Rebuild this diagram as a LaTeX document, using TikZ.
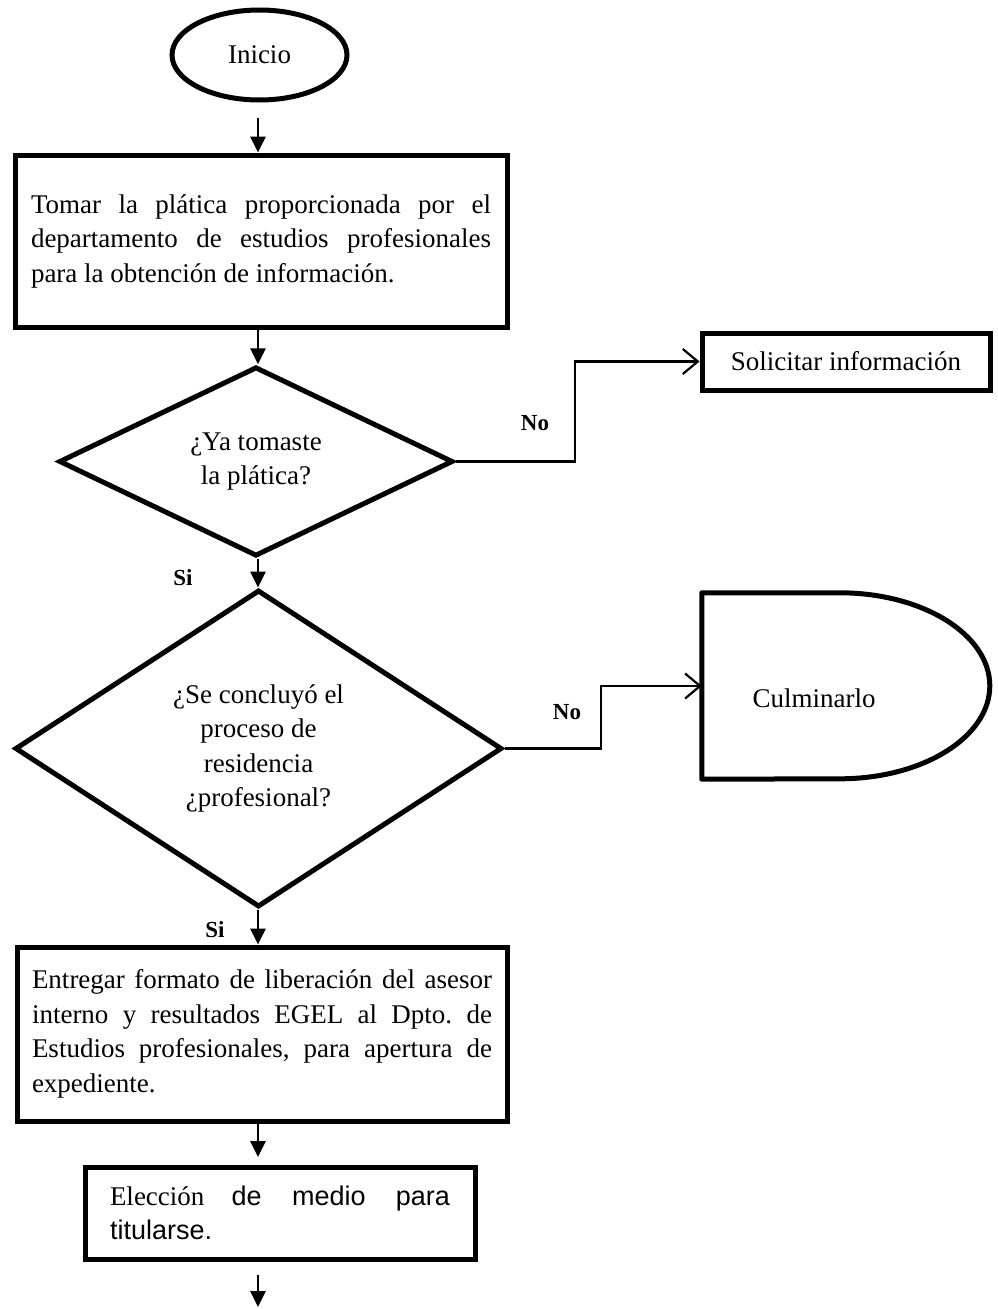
\documentclass[tikz,border=0pt]{standalone}
\usepackage{fontspec}
\setmainfont{Liberation Serif}
\newfontfamily\arialfam{Liberation Sans}
\usetikzlibrary{shapes.geometric,arrows.meta,calc}
\hyphenpenalty=10000
\exhyphenpenalty=10000
\tolerance=10000
\frenchspacing
\begin{document}
\begin{tikzpicture}[x=1pt,y=-1pt,
  thickbox/.style={draw, line width=5pt, rectangle, inner sep=0pt, align=justify, font=\fontsize{27}{34.5}\selectfont},
  term/.style={draw, ellipse, line width=5pt, minimum width=175pt, minimum height=90pt, inner sep=0pt, font=\fontsize{27}{31}\selectfont},
  decision/.style={draw, diamond, line width=5pt, inner sep=0pt, align=center, font=\fontsize{27}{34.5}\selectfont},
  flow/.style={line width=2.8pt, -{Triangle[length=16pt,width=15pt]}},
  branch/.style={line width=2.2pt, -{Straight Barb[length=15pt,width=25pt,line width=2.2pt]}},
  lbl/.style={font=\bfseries\fontsize{23}{27}\selectfont, inner sep=0pt},
]
\useasboundingbox (0,0) rectangle (997,1309);
\coordinate (col) at (258,0);

\node[term] (start) at (259.5,55) {Inicio};

\node[thickbox, minimum width=492pt, minimum height=172pt, text width=460pt] (b1) at (261,241)
  {Tomar la plática proporcionada por el\linebreak departamento de estudios profesionales\linebreak para la obtención de información.};

\node[decision, minimum width=394pt, minimum height=187pt] (d1) at (256,461.5) {¿Ya tomaste\\la plática?};

\node[thickbox, minimum width=288pt, minimum height=57pt, align=center] (sol) at (846,361.5) {Solicitar información};

\node[decision, minimum width=487pt, minimum height=317pt] (d2) at (258.5,748.5)
  {\rule{0pt}{10pt}¿Se concluyó el\\proceso de\\residencia\\¿profesional?};

\node[minimum width=288pt, minimum height=186pt, inner sep=0pt] (culm) at (846,686) {};
\node[font=\fontsize{27}{31}\selectfont, inner sep=0pt] (culmtext) at (814,698) {Culminarlo};
\draw[line width=5pt, line join=round] (culm.south west) -- (culm.north west) -- ++(138,0)
  arc[start angle=90, end angle=-90, x radius=150pt, y radius=93pt] -- cycle;

\node[thickbox, minimum width=490pt, minimum height=174pt, text width=460pt] (b3) at (262,1034)
  {Entregar formato de liberación del asesor\linebreak interno y resultados EGEL al Dpto. de\linebreak Estudios profesionales, para apertura de\linebreak expediente.};

\node[thickbox, minimum width=390pt, minimum height=92pt, text width=340pt] (b4) at (280,1213)
  {Elección {\arialfam de medio para}\linebreak {\arialfam titularse.}};

\coordinate (c0) at (258,118);
\coordinate (c3) at (258,1157);
\coordinate (c4) at (258,1275);
\coordinate (c5) at (258,1307);
\coordinate (k1) at (575,0);
\coordinate (k2) at (601,0);

\draw[flow] (c0) -- (col |- b1.north);
\draw[flow] (col |- b1.south) -- (col |- d1.north);
\draw[flow] (col |- d1.south) -- (col |- d2.north);
\draw[flow] (col |- d2.south) -- (col |- b3.north);
\draw[flow] (col |- b3.south) -- (c3);
\draw[flow] (c4) -- (c5);

\draw[branch] (d1.east) -| (k1 |- sol.west) -- (sol.west);
\draw[branch] (d2.east) -| (k2 |- culm.west) -- (culm.west);

\node[lbl] (si1) at (183,578) {Si};
\node[lbl] (no1) at (535,423) {No};
\node[lbl] (no2) at (567,712) {No};
\node[lbl] (si2) at (215,930) {Si};
\end{tikzpicture}
\end{document}
